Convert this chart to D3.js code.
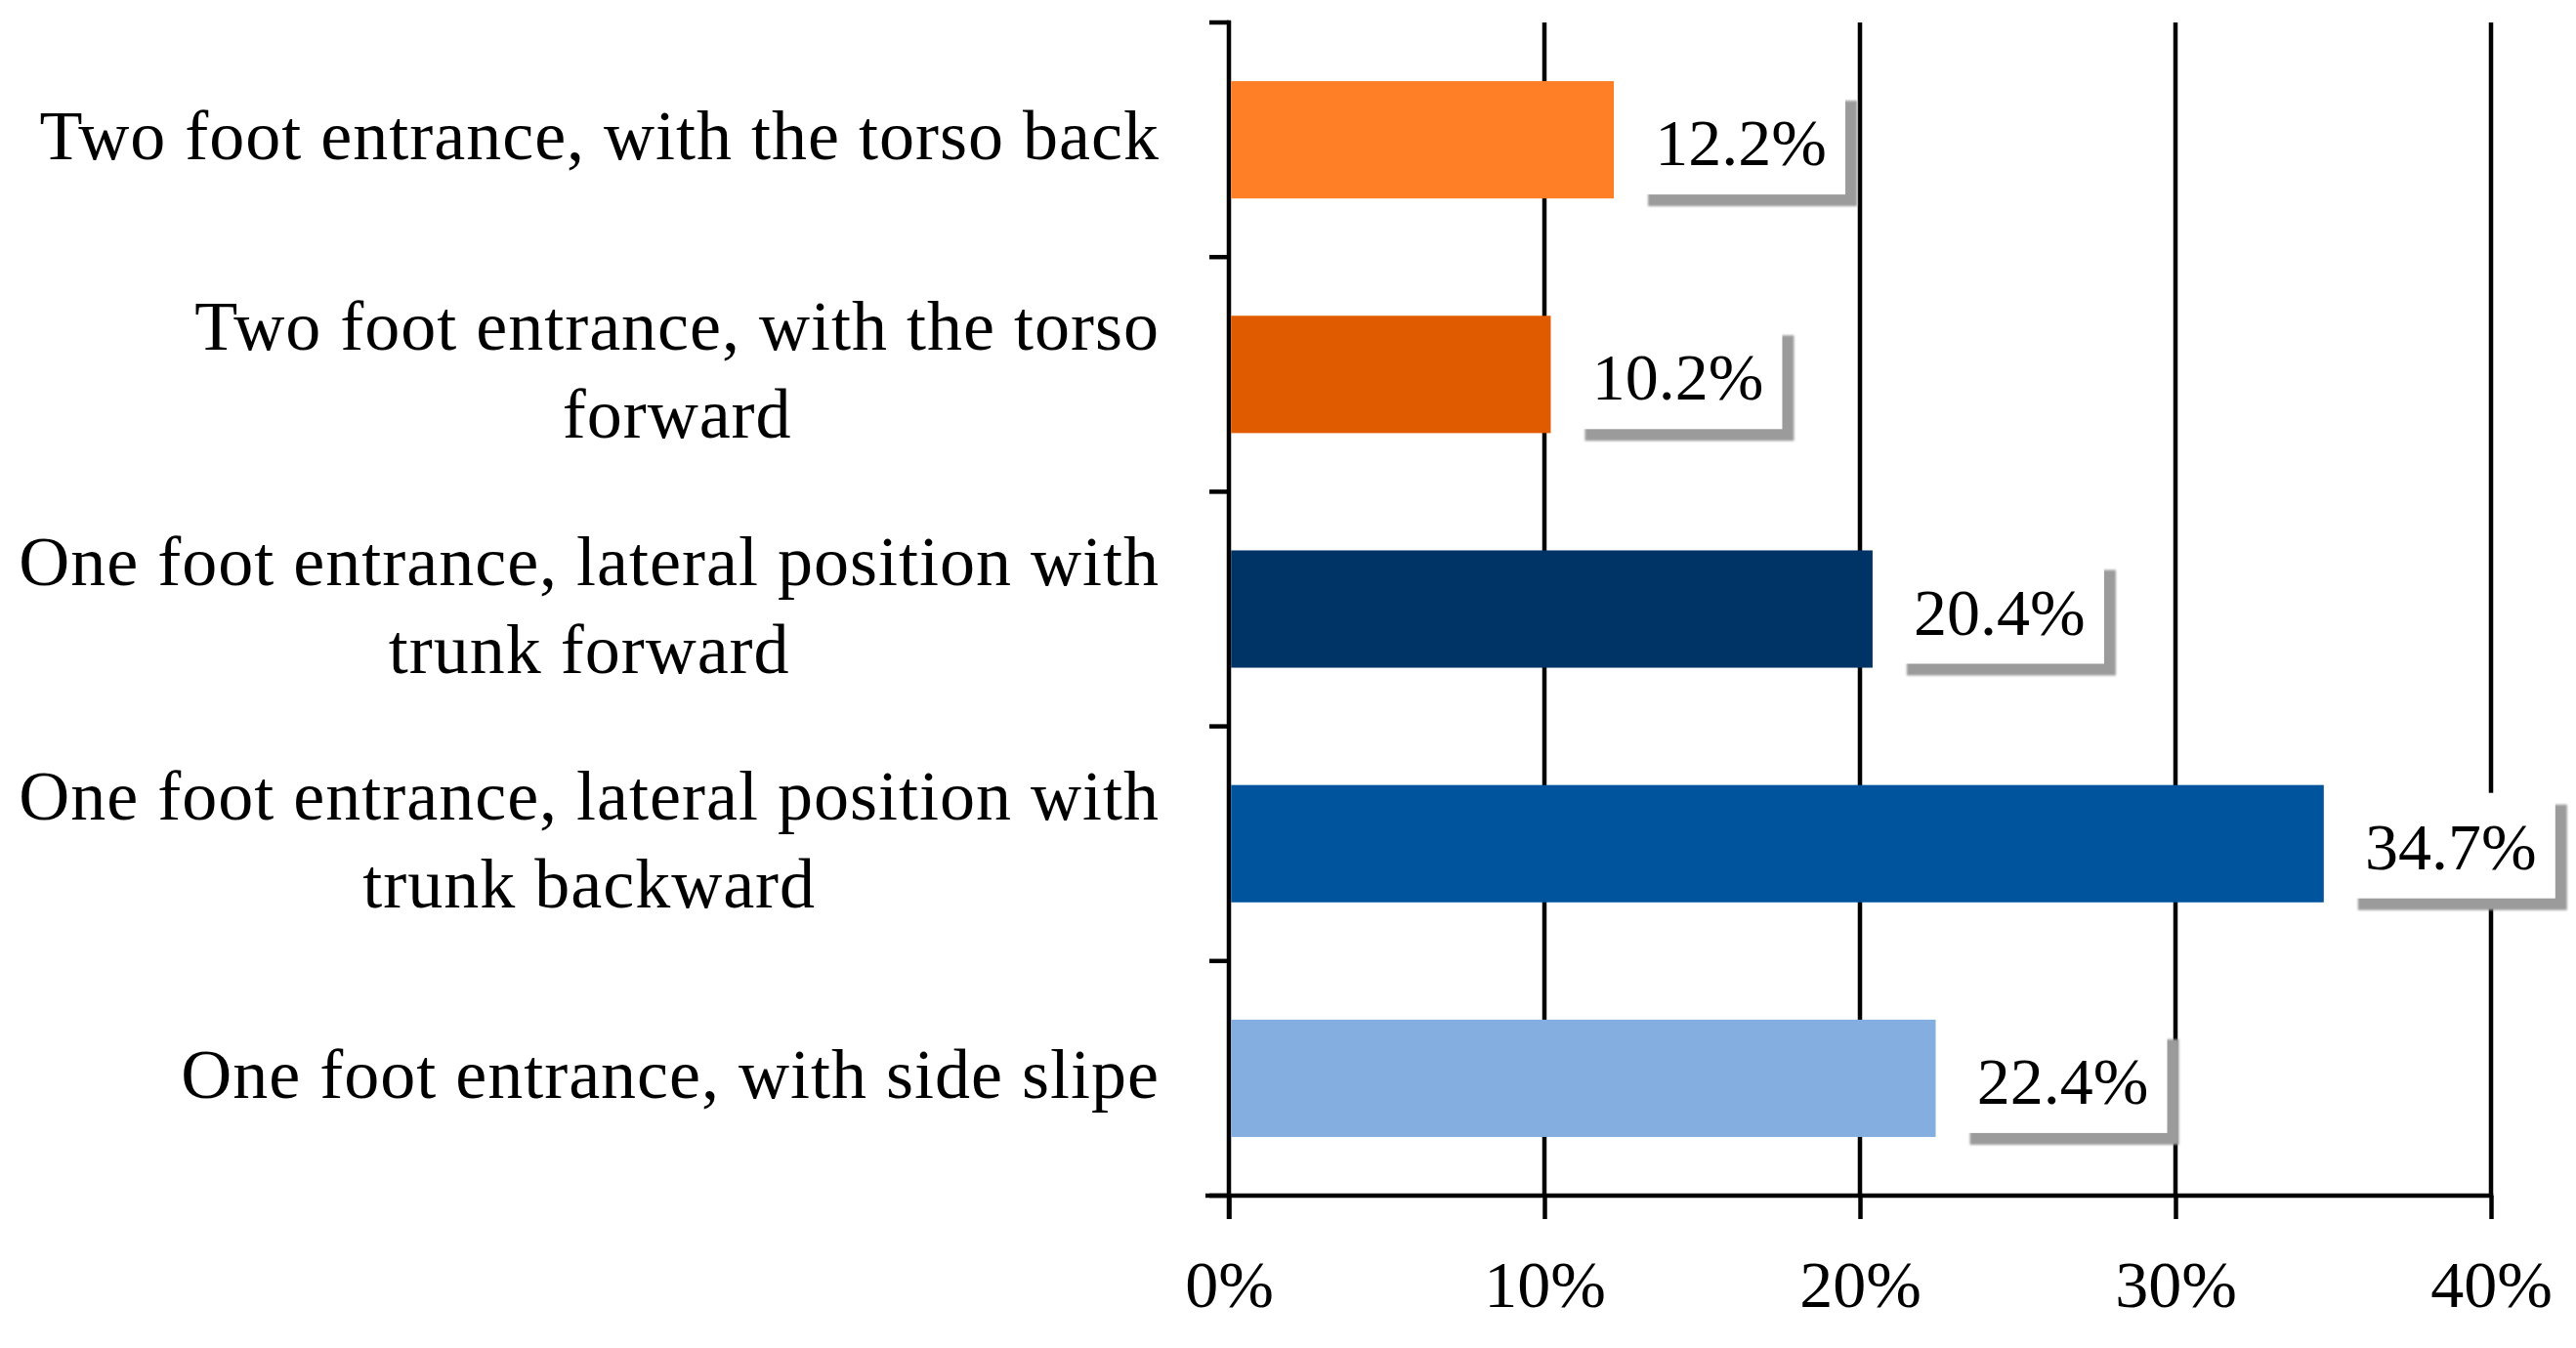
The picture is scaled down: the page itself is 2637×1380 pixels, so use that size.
<!DOCTYPE html>
<html>
<head>
<meta charset="utf-8">
<script src="https://cdn.jsdelivr.net/npm/d3@7"></script>
<style>
  html, body { margin: 0; padding: 0; background: #fff; }
  svg { display: block; }
  text { font-family: "Liberation Serif", "DejaVu Serif", serif; fill: #000; }
</style>
</head>
<body>
<svg id="chart" width="2637" height="1380"></svg>
<script>
const categories = [
  "Two foot entrance, with the torso back",
  "Two foot entrance, with the torso forward",
  "One foot entrance, lateral position with trunk forward",
  "One foot entrance, lateral position with trunk backward",
  "One foot entrance, with side slipe"
];
const labelLines = [
  ["Two foot entrance, with the torso back"],
  ["Two foot entrance, with the torso", "forward"],
  ["One foot entrance, lateral position with", "trunk forward"],
  ["One foot entrance, lateral position with", "trunk backward"],
  ["One foot entrance, with side slipe"]
];
const values = [12.2, 10.2, 20.4, 34.7, 22.4];
const barColors = ["#FF7F27", "#E05A00", "#003366", "#00549E", "#84AEE0"];
const xTicks = [0, 10, 20, 30, 40];
const xTickLabels = ["0%", "10%", "20%", "30%", "40%"];

(function () {
const svg = d3.select("#chart");
const pLeft = 1258, pRight = 2550, pTop = 23, pBottom = 1224;

const x = d3.scaleLinear().domain([0, 40]).range([pLeft, pRight]);
const y = d3.scaleBand().domain(categories).range([pTop, pBottom])
  .paddingInner(0.5).paddingOuter(0.25);

const lw = 4.5;

// gridlines
svg.append("g").selectAll("line").data(xTicks.slice(1)).join("line")
  .attr("x1", d => x(d)).attr("x2", d => x(d))
  .attr("y1", pTop).attr("y2", pBottom)
  .attr("stroke", "#000").attr("stroke-width", lw);

// bottom axis
const xAxis = d3.axisBottom(x).tickValues(xTicks)
  .tickFormat((d, i) => xTickLabels[i]).tickSize(24).tickSizeOuter(0).tickPadding(42);
const gx = svg.append("g").attr("transform", `translate(0,${pBottom})`).call(xAxis);
gx.select(".domain").remove();
gx.selectAll(".tick line").attr("stroke", "#000").attr("stroke-width", lw);
gx.selectAll(".tick text").attr("font-size", 68).attr("font-family", "Liberation Serif")
  .attr("fill", "#000");
svg.append("line").attr("x1", pLeft - 24).attr("x2", pRight + lw / 2)
  .attr("y1", pBottom).attr("y2", pBottom).attr("stroke", "#000").attr("stroke-width", lw);

// left axis with band-boundary ticks
const boundaries = d3.range(categories.length + 1).map(i => pTop + i * y.step());
svg.append("g").selectAll("line").data(boundaries).join("line")
  .attr("x1", pLeft - 20).attr("x2", pLeft)
  .attr("y1", d => d).attr("y2", d => d)
  .attr("stroke", "#000").attr("stroke-width", lw);
svg.append("line").attr("x1", pLeft).attr("x2", pLeft)
  .attr("y1", pTop - lw / 2).attr("y2", pBottom + 24)
  .attr("stroke", "#000").attr("stroke-width", lw);

// bars
svg.append("g").selectAll("rect").data(values).join("rect")
  .attr("x", x(0) + lw / 2)
  .attr("y", (d, i) => y(categories[i]))
  .attr("width", d => x(d) - x(0) - lw / 2)
  .attr("height", y.bandwidth())
  .attr("fill", (d, i) => barColors[i]);

// shadow filter
const defs = svg.append("defs");
defs.append("filter").attr("id", "blur").append("feGaussianBlur").attr("stdDeviation", 1.2);

// data labels
const boxW = 214, boxH = 108, off = 12;
const lab = svg.append("g").selectAll("g").data(values).join("g")
  .attr("transform", (d, i) => `translate(${x(d) + 23},${y(categories[i]) + y.bandwidth() / 2 + 2 - boxH / 2})`);
lab.append("rect").attr("x", off).attr("y", off).attr("width", boxW).attr("height", boxH)
  .attr("fill", "#9b9b9b").attr("filter", "url(#blur)");
lab.append("rect").attr("x", 0).attr("y", 0).attr("width", boxW).attr("height", boxH)
  .attr("fill", "#fff");
lab.append("text").attr("x", boxW / 2).attr("y", boxH / 2 + 24)
  .attr("text-anchor", "middle").attr("font-size", 68)
  .text(d => d.toFixed(1) + "%");

// category labels
const cl = svg.append("g").selectAll("text").data(categories).join("text")
  .attr("text-anchor", "end").attr("font-size", 72)
  .attr("letter-spacing", 1)
  .attr("font-family", "Liberation Serif");
cl.each(function (c, i) {
  const lines = labelLines[i];
  const cy = y(c) + y.bandwidth() / 2;
  const first = cy + 20 - (lines.length - 1) * 45;
  d3.select(this).selectAll("tspan").data(lines).join("tspan")
    .attr("x", 1187)
    .attr("y", (d, j) => first + j * 90)
    .text(d => d);
});
// multi-line labels: second line centred under the first
cl.each(function (c, i) {
  const lines = labelLines[i];
  if (lines.length > 1) {
    const t = d3.select(this).attr("text-anchor", "middle");
    const w = this.querySelector("tspan").getComputedTextLength();
    t.selectAll("tspan").attr("x", 1187 - w / 2);
  }
});
})();
</script>
</body>
</html>
